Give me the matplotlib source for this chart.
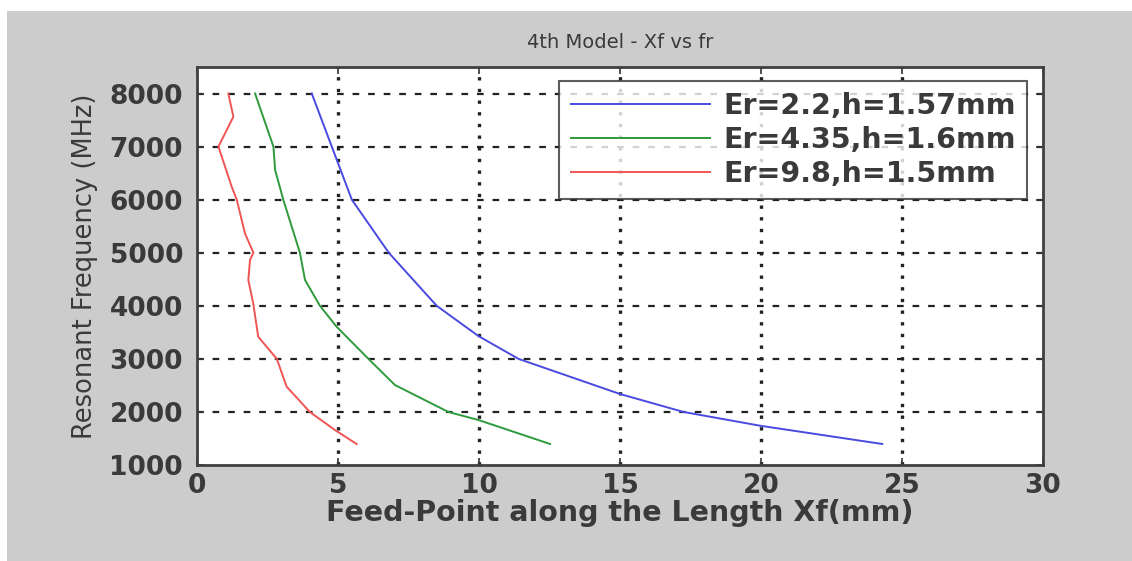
import numpy as np
import matplotlib.pyplot as plt
from matplotlib.patches import Rectangle

# values
fr_blue = [8000, 7000, 6000, 5000, 4000, 3430, 3000, 2338, 2000, 1741, 1396]
xf_blue = [4.07, 4.78, 5.49, 6.8, 8.5, 9.98, 11.4, 15.0, 17.25, 19.96, 24.3]

fr_green = [8000, 7092, 7000, 6559, 6000, 5490, 5000, 4486, 4000, 3606, 3000, 2507, 2000, 1848, 1396]
xf_green = [2.06, 2.65, 2.71, 2.77, 3.06, 3.36, 3.65, 3.83, 4.36, 4.95, 6.08, 7.02, 8.91, 9.98, 12.52]

fr_red = [8000, 7563, 7000, 6244, 6000, 5366, 5000, 4863, 4486, 4028, 3418, 3000, 2475, 2000, 1660, 1396]
xf_red = [1.11, 1.29, 0.76, 1.23, 1.41, 1.70, 2.0, 1.88, 1.82, 2.0, 2.17, 2.83, 3.18, 4.0, 4.89, 5.66]

labels = ['Er=2.2,h=1.57mm', 'Er=4.35,h=1.6mm', 'Er=9.8,h=1.5mm']

W, H = 1132, 561
plt.rcParams['font.family'] = 'DejaVu Sans'
fig = plt.figure(figsize=(W / 100, H / 100), dpi=100)
fig.patch.set_facecolor('white')
fig.patches.append(Rectangle((7 / W, 0), 1 - 7 / W, (H - 11) / H,
                             transform=fig.transFigure, facecolor='#cccccc',
                             edgecolor='none', zorder=-10))

ax = fig.add_axes([197 / W, 1 - 465 / H, (1043 - 197) / W, (465 - 67) / H])
ax.set_facecolor('white')

ax.plot(xf_blue, fr_blue, color='#4a4ae0', lw=1.4, label=labels[0])
ax.plot(xf_green, fr_green, color='#2e9a3c', lw=1.4, label=labels[1])
ax.plot(xf_red, fr_red, color='#f05555', lw=1.4, label=labels[2])

ax.set_xlim(0, 30)
ax.set_ylim(1000, 8500)
ax.set_xticks(range(0, 31, 5))
ax.set_yticks(range(1000, 8001, 1000))

for y in range(2000, 8001, 1000):
    ax.axhline(y, color='#222222', ls=(0, (3, 4)), lw=1.6, zorder=0)
for x in range(5, 30, 5):
    ax.axvline(x, color='#222222', ls=(0, (1, 2.5)), lw=2.4, zorder=0)

ax.tick_params(direction='in', top=True, right=True, length=5, width=1.2,
               colors='#333333', labelsize=19)
ax.tick_params(axis='y', pad=10)
ax.tick_params(axis='x', pad=6)
for lab in ax.get_xticklabels() + ax.get_yticklabels():
    lab.set_fontweight('bold')
    lab.set_color('#3a3a3a')
for sp in ax.spines.values():
    sp.set_linewidth(2)
    sp.set_color('#404040')

ax.set_xlabel('Feed-Point along the Length Xf(mm)', fontsize=20.5,
              fontweight='bold', color='#3a3a3a', labelpad=0)
ax.set_ylabel('Resonant Frequency (MHz)', fontsize=18.5, color='#3a3a3a',
              labelpad=8)
ax.set_title('4th Model - Xf vs fr', fontsize=14, color='#3a3a3a', pad=14)

leg = ax.legend(loc='upper right', bbox_to_anchor=(0.981, 0.965),
                borderaxespad=0, prop={'weight': 'bold', 'size': 20.5},
                frameon=True, fancybox=False, handlelength=4.9,
                borderpad=0.4, labelspacing=0.2, handletextpad=0.45)
leg.get_frame().set_edgecolor('#333333')
leg.get_frame().set_linewidth(1.5)
for t in leg.get_texts():
    t.set_color('#3a3a3a')

fig.savefig('out.png', dpi=100)
